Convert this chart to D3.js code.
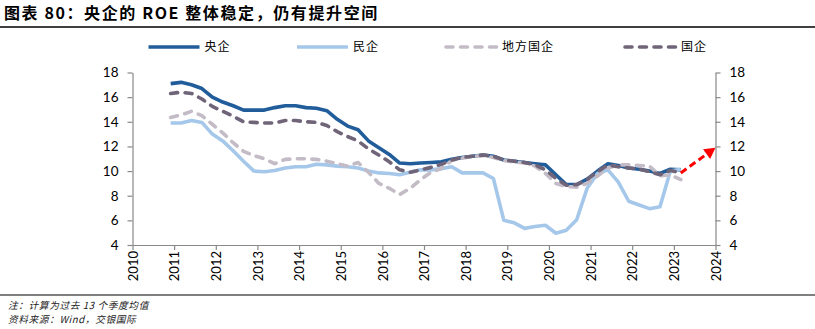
<!DOCTYPE html>
<html>
<head>
<meta charset="utf-8">
<script src="https://cdn.jsdelivr.net/npm/d3@7/dist/d3.min.js"></script>
<style>
  html, body { margin: 0; padding: 0; background: #fff; }
  svg { display: block; }
</style>
</head>
<body>
<svg id="chart" width="815" height="329"></svg>
<script>
// First quarter of the series and ROE values (%), trailing 13-quarter averages
const startYear = 2010, startQuarter = 4;

const central = [17.1, 17.2, 17.0, 16.7, 16.0, 15.6, 15.3, 14.95, 14.95, 14.95,
  15.15, 15.3, 15.3, 15.15, 15.1, 14.9, 14.2, 13.65, 13.35, 12.45,
  11.9, 11.35, 10.65, 10.6, 10.65, 10.7, 10.75, 10.95, 11.1, 11.2,
  11.3, 11.2, 10.9, 10.8, 10.7, 10.6, 10.5, 9.7, 8.9, 8.9,
  9.35, 10.0, 10.6, 10.45, 10.25, 10.15, 10.0, 9.8, 10.15, 10.1];

const privateEnt = [13.9, 13.9, 14.1, 13.95, 13.0, 12.45, 11.65, 10.8, 10.0, 9.95,
  10.05, 10.25, 10.35, 10.35, 10.55, 10.5, 10.4, 10.35, 10.25, 10.0,
  9.85, 9.8, 9.7, 9.9, 10.1, 10.1, 10.2, 10.35, 9.85, 9.85,
  9.85, 9.4, 6.0, 5.8, 5.35, 5.5, 5.6, 4.95, 5.2, 6.05,
  8.6, 9.8, 10.1, 9.1, 7.55, 7.25, 6.95, 7.1, 10.0, 10.15];

const localSoe = [14.35, 14.55, 14.85, 14.5, 13.8, 13.1, 12.3, 11.6, 11.25, 11.0,
  10.6, 10.95, 11.0, 11.0, 10.95, 10.8, 10.6, 10.4, 10.7, 9.9,
  9.0, 8.6, 8.1, 8.6, 9.3, 9.9, 10.2, 10.85, 11.05, 11.2,
  11.25, 11.1, 10.85, 10.75, 10.65, 10.4, 9.8, 9.0, 8.75, 8.7,
  9.0, 9.6, 10.25, 10.5, 10.5, 10.45, 10.4, 9.6, 9.7, 9.3];

const allSoe = [16.3, 16.4, 16.3, 15.85, 15.25, 14.85, 14.45, 14.0, 13.95, 13.9,
  13.9, 14.1, 14.1, 14.0, 13.95, 13.7, 13.2, 12.8, 12.45, 11.8,
  11.3, 10.75, 10.1, 9.9, 10.1, 10.3, 10.55, 10.9, 11.1, 11.2,
  11.3, 11.2, 10.9, 10.8, 10.7, 10.5, 10.1, 9.4, 8.85, 8.9,
  9.3, 9.95, 10.5, 10.35, 10.25, 10.15, 9.95, 9.7, 10.05, 9.85];

// Expected direction for SOE ROE, pointing to 2024
const outlookYear = 2024, outlookValue = 11.9;

const seriesNames = ["央企", "民企", "地方国企", "国企"];
const yearTicks = d3.range(2010, 2025);
const valueTicks = [4, 6, 8, 10, 12, 14, 16, 18];

const titleText = "图表 80：央企的 ROE 整体稳定，仍有提升空间";
const noteLines = ["注：计算为过去 13 个季度均值", "资料来源：Wind，交银国际"];

// Quarter index -> decimal year (placed at the final month of the quarter)
function quarterTime(i) {
  const q = (startQuarter - 1) + i;
  const y = startYear + Math.floor(q / 4);
  const qq = q % 4 + 1;
  return y + (qq * 3 - 1) / 12;
}

const svg = d3.select("#chart");
const W = 815, H = 329;
const plot = { left: 132.5, right: 715.5, top: 72.5, bottom: 245 };

const x = d3.scaleLinear().domain([2010, 2024]).range([plot.left, plot.right]);
const y = d3.scaleLinear().domain([4, 18]).range([plot.bottom, plot.top]);

const axisColor = "#898989";
const tickFont = "Lato, 'Open Sans', sans-serif";
const cjkFont = "'Noto Sans CJK SC', sans-serif";

// Title and rules
svg.append("text")
  .attr("x", 4).attr("y", 19)
  .attr("font-family", cjkFont)
  .attr("font-weight", "bold")
  .attr("font-size", 16)
  .attr("letter-spacing", 1.6)
  .attr("fill", "#000")
  .text(titleText);
svg.append("line")
  .attr("x1", 0).attr("x2", W).attr("y1", 27).attr("y2", 27)
  .attr("stroke", "#000").attr("stroke-width", 1.5);
svg.append("line")
  .attr("x1", 0).attr("x2", W).attr("y1", 295).attr("y2", 295)
  .attr("stroke", "#000").attr("stroke-width", 1.2);

// Footnotes
noteLines.forEach((t, k) => {
  svg.append("text")
    .attr("x", 8).attr("y", 309 + k * 14.2)
    .attr("font-family", cjkFont)
    .attr("font-style", "italic")
    .attr("font-size", 9.7)
    .attr("letter-spacing", 0.6)
    .attr("fill", "#222")
    .text(t);
});

// Axes
function styleAxis(g) {
  g.selectAll(".domain").attr("stroke", axisColor).attr("stroke-width", 1.2);
  g.selectAll(".tick line").attr("stroke", axisColor).attr("stroke-width", 1.2);
  g.selectAll(".tick text").attr("fill", "#000")
    .attr("font-family", tickFont).attr("font-size", 13.5);
}

svg.append("g")
  .attr("transform", `translate(${plot.left},0)`)
  .call(d3.axisLeft(y).tickValues(valueTicks).tickSize(5).tickPadding(9).tickSizeOuter(0))
  .call(styleAxis);

svg.append("g")
  .attr("transform", `translate(${plot.right},0)`)
  .call(d3.axisRight(y).tickValues(valueTicks).tickSize(5).tickPadding(9).tickSizeOuter(0))
  .call(styleAxis);

const xg = svg.append("g")
  .attr("transform", `translate(0,${plot.bottom})`)
  .call(d3.axisBottom(x).tickValues(yearTicks).tickFormat(d3.format("d")).tickSize(5).tickSizeOuter(0))
  .call(styleAxis);
xg.selectAll(".tick text")
  .attr("transform", "rotate(-90)")
  .attr("text-anchor", "end")
  .attr("x", -6)
  .attr("y", 0)
  .attr("dy", "0.36em")
  .attr("font-size", 13);

// Series styles
const series = [
  { name: seriesNames[0], values: central,    color: "#215D9A", dash: null },
  { name: seriesNames[1], values: privateEnt, color: "#A5C8EA", dash: null },
  { name: seriesNames[2], values: localSoe,   color: "#C3BCC6", dash: "7,7.5" },
  { name: seriesNames[3], values: allSoe,     color: "#6F6478", dash: "7,7.5" }
];

const line = d3.line()
  .x((d, i) => x(quarterTime(i)))
  .y(d => y(d));

series.forEach(s => {
  svg.append("path")
    .datum(s.values)
    .attr("d", line)
    .attr("fill", "none")
    .attr("stroke", s.color)
    .attr("stroke-width", 3.6)
    .attr("stroke-linejoin", "round")
    .attr("stroke-linecap", s.dash ? "round" : "butt")
    .attr("stroke-dasharray", s.dash);
});

// Outlook arrow from the latest SOE reading
const lastIdx = allSoe.length - 1;
const ax0 = x(quarterTime(lastIdx)), ay0 = y(allSoe[lastIdx]);
const ax1 = x(outlookYear), ay1 = y(outlookValue);
const ang = Math.atan2(ay1 - ay0, ax1 - ax0);
const headLen = 11, headHalf = 6;
const bx = ax1 - headLen * Math.cos(ang), by = ay1 - headLen * Math.sin(ang);
svg.append("line")
  .attr("x1", ax0).attr("y1", ay0).attr("x2", bx).attr("y2", by)
  .attr("stroke", "#FF0000").attr("stroke-width", 3)
  .attr("stroke-dasharray", "7,4");
svg.append("path")
  .attr("d", `M${ax1},${ay1}L${bx - headHalf * Math.sin(ang)},${by + headHalf * Math.cos(ang)}L${bx + headHalf * Math.sin(ang)},${by - headHalf * Math.cos(ang)}Z`)
  .attr("fill", "#FF0000");

// Legend
const legendX = [148.5, 297, 446, 625];
const legendY = 47;
series.forEach((s, k) => {
  const g = svg.append("g").attr("transform", `translate(${legendX[k]},${legendY})`);
  g.append("line")
    .attr("x1", 0).attr("x2", 51).attr("y1", 0).attr("y2", 0)
    .attr("stroke", s.color).attr("stroke-width", 3.6)
    .attr("stroke-linecap", s.dash ? "round" : "butt")
    .attr("stroke-dasharray", s.dash);
  g.append("text")
    .attr("x", 56).attr("y", 0).attr("dy", "0.36em")
    .attr("font-family", cjkFont)
    .attr("font-size", 12)
    .attr("letter-spacing", 1)
    .attr("fill", "#000")
    .text(s.name);
});
</script>
</body>
</html>
